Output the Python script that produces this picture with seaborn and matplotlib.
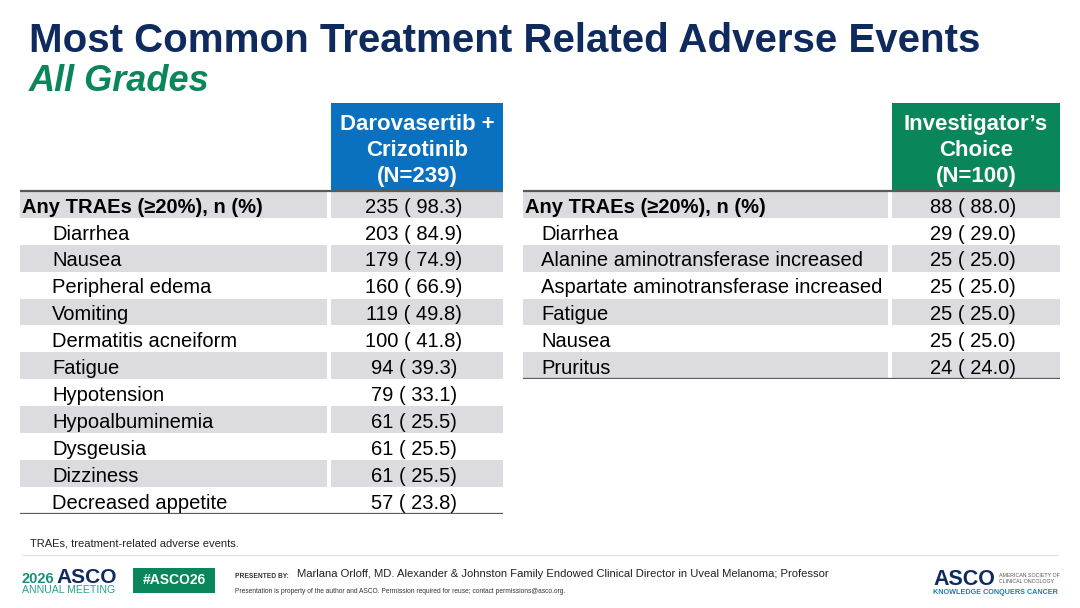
import matplotlib
matplotlib.use("Agg")
import matplotlib.pyplot as plt
import seaborn as sns

# ---------------- data ----------------
title = "Most Common Treatment Related Adverse Events"
subtitle = "All Grades"

left_header = "Darovasertib +\nCrizotinib\n(N=239)"
left_events = ["Any TRAEs (≥20%), n (%)", "Diarrhea", "Nausea", "Peripheral edema",
               "Vomiting", "Dermatitis acneiform", "Fatigue", "Hypotension",
               "Hypoalbuminemia", "Dysgeusia", "Dizziness", "Decreased appetite"]
left_n = [235, 203, 179, 160, 119, 100, 94, 79, 61, 61, 61, 57]
left_pct = [98.3, 84.9, 74.9, 66.9, 49.8, 41.8, 39.3, 33.1, 25.5, 25.5, 25.5, 23.8]

right_header = "Investigator’s\nChoice\n(N=100)"
right_events = ["Any TRAEs (≥20%), n (%)", "Diarrhea", "Alanine aminotransferase increased",
                "Aspartate aminotransferase increased", "Fatigue", "Nausea", "Pruritus"]
right_n = [88, 29, 25, 25, 25, 25, 24]
right_pct = [88.0, 29.0, 25.0, 25.0, 25.0, 25.0, 24.0]

footnote = "TRAEs, treatment-related adverse events."
presenter = "Marlana Orloff, MD. Alexander & Johnston Family Endowed Clinical Director in Uveal Melanoma; Professor"
disclaimer = "Presentation is property of the author and ASCO. Permission required for reuse; contact permissions@asco.org."

# ---------------- style ----------------
sns.set_theme(style="white")
plt.rcParams['font.family'] = ['Liberation Sans', 'DejaVu Sans']

W, H = 1080, 608
NAVY = "#0f2a5c"
GREEN = "#0a875a"
BLUE = "#0a70c0"
GRAY = "#dcdce0"
LINE = "#5a5a5a"

fig = plt.figure(figsize=(W / 100, H / 100), dpi=100)
fig.patch.set_facecolor("white")


def fx(px):
    return px / W


def fy(py):
    return 1 - py / H


fig.text(fx(29), fy(52), title, fontsize=29, fontweight="bold", color=NAVY,
         ha="left", va="baseline")
fig.text(fx(29), fy(91), subtitle, fontsize=26, fontweight="bold", style="italic",
         color=GREEN, ha="left", va="baseline")

ROW_H = 26.9  # px per row
HDR_H = 88.0  # px header height


def draw_table(x0, x1, xsplit, top, events, ns, pcts, header, hcolor, indent):
    n = len(events)
    bottom = top + HDR_H + n * ROW_H
    ax = fig.add_axes([fx(x0), fy(bottom), fx(x1 - x0), (bottom - top) / H])
    hdr = HDR_H / ROW_H
    ax.set_xlim(0, 1)
    ax.set_ylim(n, -hdr)
    ax.axis("off")
    split = (xsplit - x0) / (x1 - x0)
    gap = 2.0 / (x1 - x0)
    rows = list(range(n))
    # stripes
    gray_rows = [r for r in rows if r % 2 == 0]
    ax.barh(gray_rows, [split - gap] * len(gray_rows), left=0, height=1.0,
            align="edge", color=GRAY, linewidth=0)
    ax.barh(gray_rows, [1 - split - gap] * len(gray_rows), left=split + gap, height=1.0,
            align="edge", color=GRAY, linewidth=0)
    # header cell
    ax.barh([-hdr], [1 - split - gap], left=split + gap, height=hdr, align="edge",
            color=hcolor, linewidth=0)
    ax.text(split + gap + (1 - split - gap) / 2, -hdr / 2 + 0.13, header, ha="center",
            va="center", color="white", fontsize=16, fontweight="bold", linespacing=1.32)
    # lines
    ax.plot([split + gap, 1], [-hdr, -hdr], color=LINE, lw=1.6, solid_capstyle="butt")
    ax.plot([0, 1], [0, 0], color=LINE, lw=1.6, solid_capstyle="butt")
    ax.plot([0, 1], [n, n], color=LINE, lw=1.6, solid_capstyle="butt")
    # text
    vx = split + gap + (1 - split - gap) / 2
    for r, (ev, k, p) in enumerate(zip(events, ns, pcts)):
        yc = r + 0.6
        if r == 0:
            ax.text(2 / (x1 - x0), yc, ev, ha="left", va="center", fontsize=14.5,
                    fontweight="bold", color="black")
        else:
            ax.text(indent / (x1 - x0), yc, ev, ha="left", va="center",
                    fontsize=14.5, color="black")
        ax.text(vx - 3 / (x1 - x0), yc, f"{k} ( {p:.1f})", ha="center", va="center",
                fontsize=14.5, color="black")
    return ax


draw_table(20, 503, 329, 103, left_events, left_n, left_pct, left_header, BLUE, 32)
draw_table(523, 1060, 890, 103, right_events, right_n, right_pct, right_header, GREEN, 18)

# ---------------- footer ----------------
fig.text(fx(30), fy(547), footnote, fontsize=8, color="#222222", ha="left", va="baseline")
fig.add_artist(plt.Line2D([fx(22), fx(1058)], [fy(555), fy(555)], color="#e3e3e3", lw=0.8))

fig.text(fx(22), fy(583), "2026", fontsize=10.5, fontweight="bold", color="#16907a",
         ha="left", va="baseline")
fig.text(fx(56), fy(583), "ASCO", fontsize=15, fontweight="bold", color=NAVY,
         ha="left", va="baseline")
fig.text(fx(22), fy(593), "ANNUAL MEETING", fontsize=7.6, color="#2aa38a",
         ha="left", va="baseline")

fig.patches.append(plt.Rectangle((fx(133), fy(593)), fx(82), (593 - 568) / H,
                                 transform=fig.transFigure, color=GREEN, lw=0))
fig.text(fx(174), fy(580.5), "#ASCO26", fontsize=10, fontweight="bold", color="white",
         ha="center", va="center")

fig.text(fx(235), fy(578), "PRESENTED BY:", fontsize=4.8, fontweight="bold", color="#333333",
         ha="left", va="baseline")
fig.text(fx(297), fy(577), presenter, fontsize=8.1, color="#222222", ha="left", va="baseline")
fig.text(fx(235), fy(593), disclaimer, fontsize=4.8, color="#333333", ha="left", va="baseline")

fig.text(fx(933), fy(585), "ASCO", fontsize=15.5, fontweight="bold", color=NAVY,
         ha="left", va="baseline")
fig.text(fx(999), fy(577), "AMERICAN SOCIETY OF", fontsize=3.8, color="#555555",
         ha="left", va="baseline")
fig.text(fx(999), fy(583), "CLINICAL ONCOLOGY", fontsize=3.8, color="#555555",
         ha="left", va="baseline")
fig.text(fx(933), fy(594), "KNOWLEDGE CONQUERS CANCER", fontsize=5.2, fontweight="bold",
         color="#1c7fa6", ha="left", va="baseline")

fig.savefig("out.png", dpi=100, facecolor="white")
